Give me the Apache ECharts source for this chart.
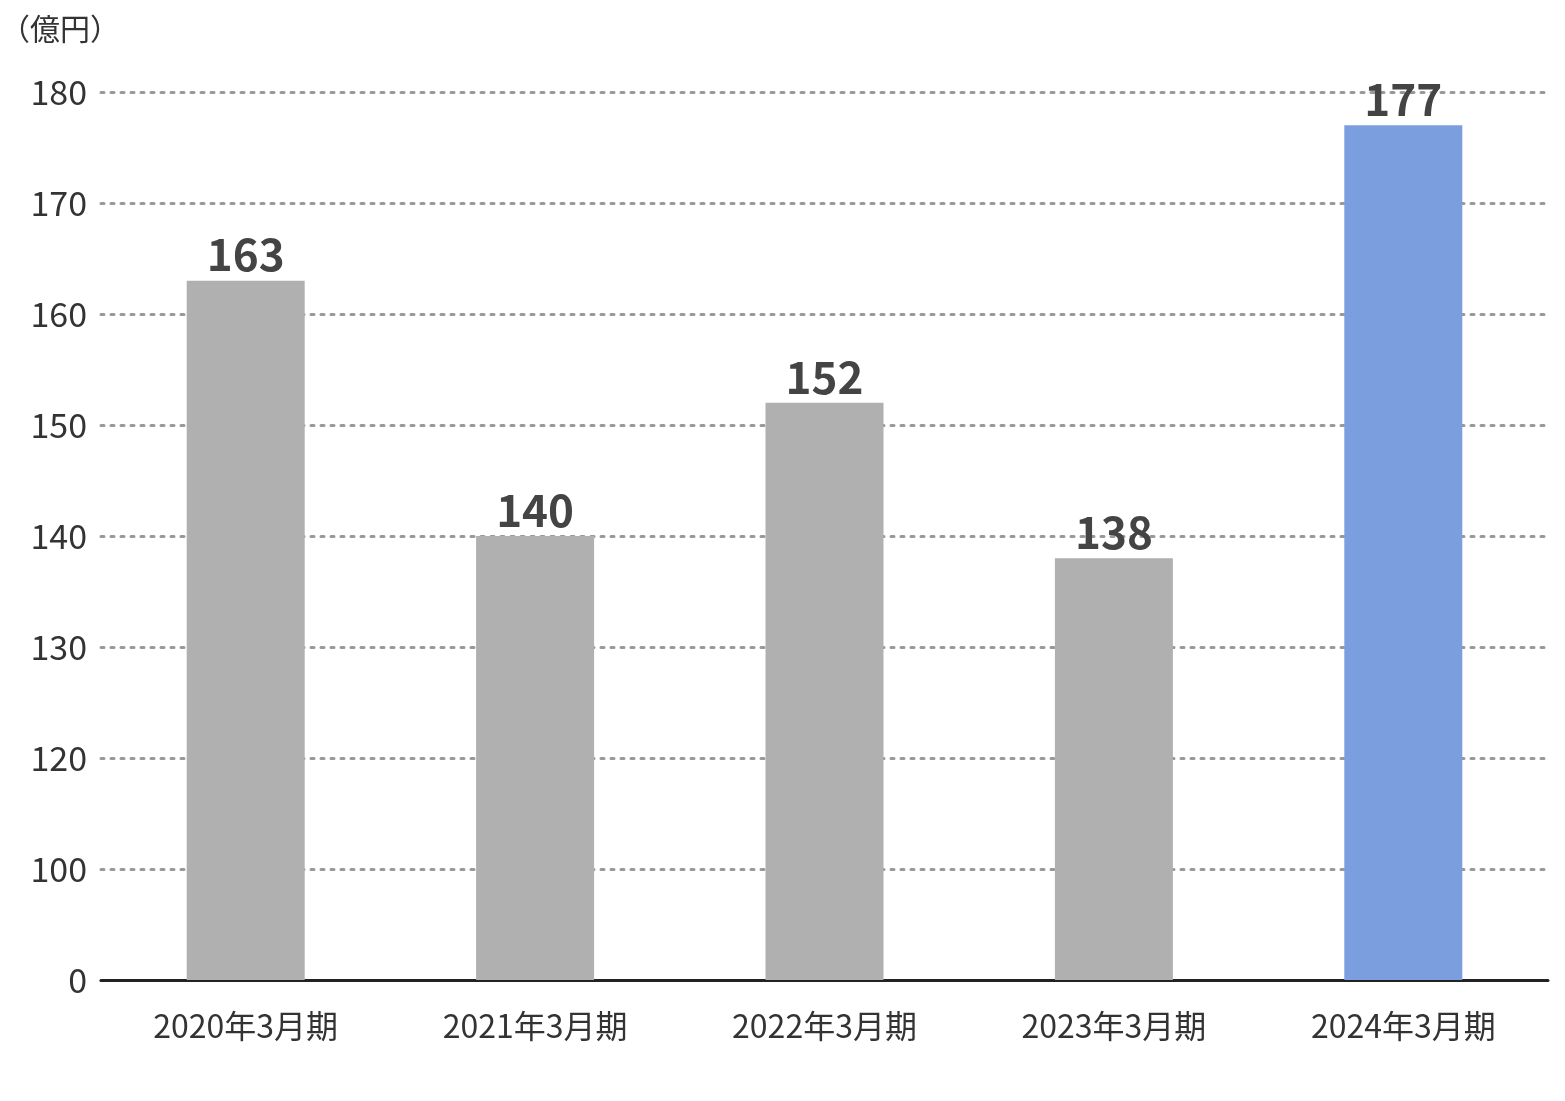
<!DOCTYPE html>
<html><head><meta charset="utf-8">
<script src="https://cdn.jsdelivr.net/npm/echarts@6/dist/echarts.min.js"></script>
<style>html,body{margin:0;padding:0;background:#fff}#c{width:1565px;height:1101px}</style>
</head><body><div id="c"></div>
<script>
const categories = ['2020年3月期','2021年3月期','2022年3月期','2023年3月期','2024年3月期'];
const values = [163, 140, 152, 138, 177];
const tickLabels = [0, 100, 120, 130, 140, 150, 160, 170, 180];
const colors = ['#b0b0b0','#b0b0b0','#b0b0b0','#b0b0b0','#7b9ede'];
// broken axis: 0,100,120,130... evenly spaced
function pos(v){
  if (v >= 120) return 2 + (v - 120) / 10;
  if (v >= 100) return 1 + (v - 100) / 20;
  return v / 100;
}
const chart = echarts.init(document.getElementById('c'));
chart.setOption({
  animation:false,
  textStyle:{fontFamily:'Noto Sans CJK JP, Noto Sans, sans-serif'},
  graphic:[{type:'text',left:0,top:14,style:{text:'（億円）',font:'30px "Noto Sans CJK JP"',fill:'#333'}}],
  grid:{left:101,right:17,top:92,bottom:121,containLabel:false},
  xAxis:{type:'category',data:categories,
    axisLine:{lineStyle:{color:'#222',width:3}},
    axisTick:{inside:true,length:16,lineStyle:{color:'#222',width:3}},
    axisLabel:{fontSize:32,color:'#333',margin:30}},
  yAxis:{type:'value',min:0,max:8,interval:1,
    axisLabel:{fontSize:34,color:'#333',margin:14,formatter:(v,i)=>String(tickLabels[Math.round(v)])},
    axisLine:{show:false},axisTick:{show:false},
    splitLine:{lineStyle:{type:[3,7],color:'#999',width:3,cap:'round'}}},
  series:[{type:'bar',barWidth:118,
    data:values.map((v,i)=>({value:pos(v),raw:v,itemStyle:{color:colors[i]}})),
    label:{show:true,position:'top',distance:4,fontSize:44,fontWeight:'bold',color:'#444',
      formatter:p=>String(values[p.dataIndex])}}]
});
</script></body></html>
